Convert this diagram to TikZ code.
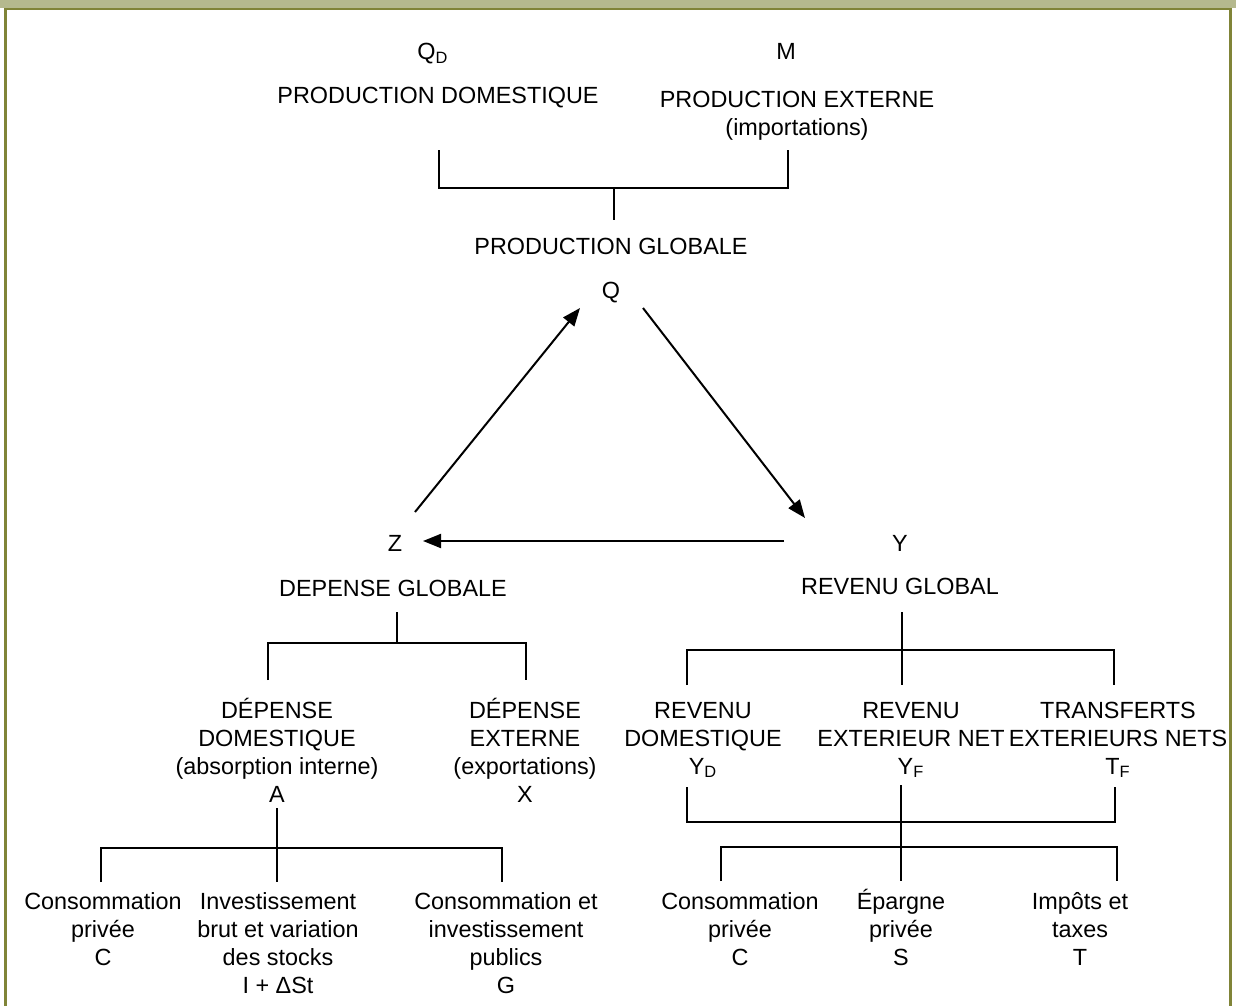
\documentclass[tikz,border=0pt]{standalone}
\usepackage{fontspec}
\setmainfont{Liberation Sans}
\usepackage{tikz}
\usetikzlibrary{arrows.meta}
\definecolor{bandcol}{RGB}{181,185,142}
\definecolor{framecol}{RGB}{128,132,56}
\newcommand{\idx}[1]{\textsubscript{#1}}
\tikzset{
  lbl/.style={anchor=base,align=center,inner sep=0pt},
  brk/.style={line width=0.75pt},
  flow/.style={line width=1pt,-{Triangle[length=9pt,width=7pt]}}
}

\begin{document}
\begin{tikzpicture}[x=0.5pt,y=-0.5pt]
\fontsize{11.7}{13.85}\selectfont
\useasboundingbox (0,0) rectangle (1236,1006);
\fill[bandcol] (0,0) rectangle (1236,8);
\draw[framecol,line width=1.25pt] (5.7,1006) -- (5.7,9) -- (1230.3,9) -- (1230.3,1006);
% production (base = last line)
\node[lbl] (qd) at (433,60) {Q\idx{D}};
\node[lbl] (m) at (786,60) {M};
\node[lbl] (pdom) at (438,104) {PRODUCTION DOMESTIQUE};
\node[lbl] (pext) at (797,135) {PRODUCTION EXTERNE\\(importations)};
\node[lbl] (pglob) at (611,254) {PRODUCTION GLOBALE};
\node[lbl] (q) at (611,298) {Q};
\coordinate (jtop) at (614,188);
\draw[brk] (439,150) |- (jtop) -| (788,150);
\draw[brk] (jtop) -- (614,220);
% triangle
\node[lbl] (z) at (395,551) {Z};
\node[lbl] (y) at (900,551) {Y};
\node[lbl] (dglob) at (393,596) {DEPENSE GLOBALE};
\node[lbl] (rglob) at (900,594) {REVENU GLOBAL};
\draw[flow] ([shift={(20,-39)}]z.base) -- ([shift={(-31,10)}]q.base);
\draw[flow] ([shift={(32,10)}]q.base) -- ([shift={(-95,-33)}]y.base);
\draw[flow] ([shift={(-116,-10)}]y.base) -- ([shift={(28,-10)}]z.base);
% depense
\node[lbl] (ddom) at (277,802) {DÉPENSE\\DOMESTIQUE\\(absorption interne)\\A};
\node[lbl] (dext) at (525,802) {DÉPENSE\\EXTERNE\\(exportations)\\X};
\coordinate (jdep) at (397,643);
\draw[brk] (397,612) -- (jdep);
\draw[brk] (268,680) |- (jdep) -| (526,680);
\node[lbl] (cpl) at (103,965) {Consommation\\privée\\C};
\node[lbl] (inv) at (278,993) {Investissement\\brut et variation\\des stocks\\I + ΔSt};
\node[lbl] (pub) at (506,993) {Consommation et\\investissement\\publics\\G};
\coordinate (jabs) at (277,848);
\draw[brk] (277,808) -- (277,882);
\draw[brk] (101,882) |- (jabs) -| (502,882);
% revenu
\node[lbl] (rdom) at (703,774) {REVENU\\DOMESTIQUE\\Y\idx{D}};
\node[lbl] (rext) at (911,774) {REVENU\\EXTERIEUR NET\\Y\idx{F}};
\node[lbl] (tf) at (1118,774) {TRANSFERTS\\EXTERIEURS NETS\\T\idx{F}};
\coordinate (jrev) at (902,650);
\draw[brk] (902,612) -- (902,685);
\draw[brk] (687,685) |- (jrev) -| (1114,685);
\coordinate (jsum) at (901,822);
\coordinate (juse) at (901,847);
\draw[brk] (687,787) |- (jsum) -| (1115,787);
\draw[brk] (901,785) -- (901,881);
\draw[brk] (721,881) |- (juse) -| (1117,881);
\node[lbl] (cpr) at (740,965) {Consommation\\privée\\C};
\node[lbl] (epa) at (901,965) {Épargne\\privée\\S};
\node[lbl] (imp) at (1080,965) {Impôts et\\taxes\\T};
\end{tikzpicture}
\end{document}
